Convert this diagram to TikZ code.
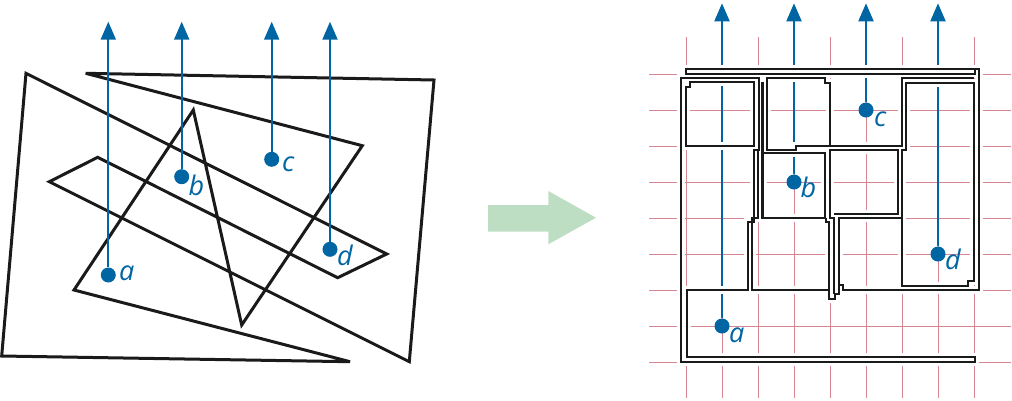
\documentclass[tikz,border=0pt]{standalone}
\usepackage{fontspec}
\setmainfont{Open Sans}
\usetikzlibrary{arrows.meta}
\definecolor{rayblue}{RGB}{0,101,163}
\definecolor{gridred}{RGB}{214,134,144}
\definecolor{flowgreen}{RGB}{190,222,196}
\definecolor{wallblack}{RGB}{26,26,26}
\pgfdeclarelayer{under}
\pgfdeclarelayer{halo}
\pgfsetlayers{under,halo,main}
\def\wall#1{\begin{pgfonlayer}{halo}\draw[halo] #1;\end{pgfonlayer}\draw[wall] #1;}
\tikzset{
  shape line/.style={line width=3, color=wallblack},
  wall/.style={line width=2.6, color=wallblack},
  halo/.style={line width=8, color=white},
  gridline/.style={line width=1, color=gridred},
  ray/.style={line width=2, color=rayblue, -{Triangle[length=18,width=15]}},
  dot/.style={circle, fill=rayblue, minimum size=15, inner sep=0},
  lbl/.style={anchor=base west, inner sep=0, color=rayblue, font=\itshape\fontsize{27}{27}\selectfont},
}

\begin{document}
\begin{tikzpicture}[x=1pt, y=-1pt]
			\useasboundingbox (0,0) rectangle (1012,400);
			
			%%%%% LEFT %%%%%
			
			\draw[shape line, miter limit=6] (26,73.3) -- (1.7,356) -- (350,361.7) -- (74,290) -- (193.3,110) -- (241.7,325) -- (362.3,145.7) -- (85.7,73.3) -- (434,80) -- (409.3,361.7) -- (49.3,181.7) -- (97.7,157.3) -- (337.7,277.7) -- (386.7,254) -- cycle;
			
			\node[dot] (pa) at (108.3,275) {};
			\node[dot] (pb) at (181.7,176.7) {};
			\node[dot] (pc) at (271.7,159.3) {};
			\node[dot] (pd) at (330,249.3) {};
			\coordinate (pa top) at (108.3,21.7);
			\coordinate (pb top) at (181.7,21.7);
			\coordinate (pc top) at (271.7,21.7);
			\coordinate (pd top) at (330,21.7);
			\draw[ray] (pa) -- (pa top);
			\draw[ray] (pb) -- (pb top);
			\draw[ray] (pc) -- (pc top);
			\draw[ray] (pd) -- (pd top);
			\node[lbl] (la) at (119,280) {a};
			\node[lbl] (lb) at (188.5,195) {b};
			\node[lbl] (lc) at (282,171.7) {c};
			\node[lbl] (ld) at (337,265) {d};
			
			%%%%% ARROW %%%%%
			
			\fill[flowgreen] (488,205) -- (548.3,205) -- (548.3,191) -- (596,217.7) -- (548.3,244.3) -- (548.3,231.7) -- (488,231.7) -- cycle;
			
			%%%%% RIGHT %%%%%
			
			\node[dot] (qa) at (722,326) {};
			\node[dot] (qb) at (794,182) {};
			\node[dot] (qc) at (866,110) {};
			\node[dot] (qd) at (938,254) {};
			\coordinate (qa top) at (722,3.3);
			\coordinate (qb top) at (794,3.3);
			\coordinate (qc top) at (866,3.3);
			\coordinate (qd top) at (938,3.3);
			
			\begin{pgfonlayer}{under}
				\foreach \gx in {686,722,...,974}
					\draw[gridline] (\gx,37) -- (\gx,398);
				\foreach \gy in {74,110,...,362}
					\draw[gridline] (649,\gy) -- (1011,\gy);
				\draw[ray] (qa) -- (qa top);
				\draw[ray] (qb) -- (qb top);
				\draw[ray] (qc) -- (qc top);
				\draw[ray] (qd) -- (qd top);
			\end{pgfonlayer}
			
			\wall{(975,69) -- (975,74) -- (686,74) -- (686,69) -- (979,69) -- (979,290) -- (843,290) -- (843,285) -- (839,285) -- (839,218) -- (902,218)}
			\wall{(839,285) -- (839,294) -- (835,294) -- (835,299) -- (829,299) -- (829,222) -- (826,222) -- (826,218)}
			\wall{(906,83) -- (974,83) -- (974,281) -- (968,281) -- (968,286) -- (902,286) -- (902,150) -- (906,150) -- cycle}
			\wall{(974,78) -- (902,78) -- (902,146) -- (796,146) -- (796,150) -- (767,150) -- (767,78) -- (825,78) -- (825,83) -- (830,83) -- (830,146)}
			\wall{(681,78) -- (759,78) -- (759,150) -- (754,150) -- (754,222) -- (748,222) -- (748,290) -- (687,290) -- (687,357) -- (975,357) -- (975,362) -- (681,362) -- cycle}
			\wall{(686,87) -- (690,87) -- (690,82) -- (754,82) -- (754,146) -- (686,146) -- cycle}
			\wall{(762.5,82) -- (762.5,218) -- (825,218) -- (825,153) -- (762.5,153)}
			\wall{(758,150) -- (758,218) -- (752,218) -- (752,290) -- (829,290)}
			\wall{(834,294) -- (834,218) -- (830,218) -- (830,150) -- (898,150) -- (898,214) -- (834,214)}
			
			\node[lbl] (ma) at (729,342.7) {a};
			\node[lbl] (mb) at (800.5,197.3) {b};
			\node[lbl] (mc) at (874,126) {c};
			\node[lbl] (md) at (945,269.3) {d};
			
		\end{tikzpicture}
\end{document}
